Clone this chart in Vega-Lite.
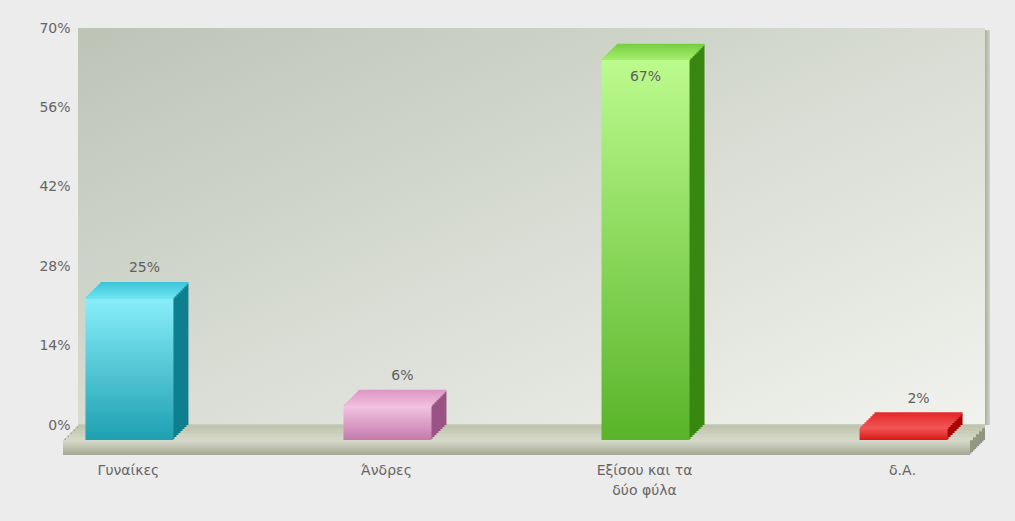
{
"$schema": "https://vega.github.io/schema/vega-lite/v6.json",
"width": 907,
"height": 397,
"autosize": "none",
"padding": {"left": 78, "top": 28, "right": 30, "bottom": 96},
"background": "#ececec",
"config": {"view": {"stroke": null}, "text": {"font": "DejaVu Sans"}},
"resolve": {"scale": {"x": "independent"}, "axis": {"x": "independent"}},
"layer": [
{
"data": {"values": [{"surface": "wall"}]},
"encoding": {
 "x": {"datum": 0, "type": "quantitative", "scale": {"domain": [0, 1], "nice": false, "zero": false}, "axis": null},
 "x2": {"datum": 1},
 "y": {"datum": 0, "type": "quantitative", "scale": {"domain": [0, 70], "nice": false, "zero": true}, "axis": {"title": null, "values": [0, 14, 28, 42, 56, 70], "labelExpr": "datum.value + '%'", "grid": false, "ticks": false, "domain": false, "labelPadding": 8, "labelFont": "DejaVu Sans", "labelFontSize": 14, "labelColor": "#666666"}},
 "y2": {"datum": -2.646}
},
"layer": [
{"mark": {"type": "rect", "color": {"gradient": "linear", "x1": 0, "y1": 0, "x2": 1, "y2": 1, "stops": [{"offset": 0, "color": "#bdc4b6"}, {"offset": 0.5, "color": "#d8dcd3"}, {"offset": 1, "color": "#f1f2ee"}]}},
 "encoding": {"y2": {"datum": 70}}},
{"mark": {"type": "rect", "color": {"gradient": "linear", "x1": 0, "y1": 0, "x2": 1, "y2": 0, "stops": [{"offset": 0, "color": "#a9af9d"}, {"offset": 1, "color": "#d0d4c8"}]}},
 "encoding": {"x": {"datum": 1, "type": "quantitative", "scale": {"domain": [0, 1], "nice": false, "zero": false}, "axis": null}, "x2": {"datum": 1.0055}, "y2": {"datum": 69.6}}},
{"data": {"values": [{"t": 14}, {"t": 28}, {"t": 42}, {"t": 56}]},
 "mark": {"type": "rule", "color": "#cad2bd", "strokeWidth": 1.2},
 "encoding": {"y": {"field": "t", "type": "quantitative", "scale": {"domain": [0, 70], "nice": false, "zero": true}, "axis": {"title": null, "values": [0, 14, 28, 42, 56, 70], "labelExpr": "datum.value + '%'", "grid": false, "ticks": false, "domain": false, "labelPadding": 8, "labelFont": "DejaVu Sans", "labelFontSize": 14, "labelColor": "#666666"}}, "y2": null}},
{"mark": {"type": "rect", "color": "#8f957f", "xOffset": 0, "yOffset": 0, "x2Offset": 0, "y2Offset": 0}},
{"mark": {"type": "rect", "color": "#8f957f", "xOffset": -1.5, "yOffset": 1.5, "x2Offset": -1.5, "y2Offset": 1.5}},
{"mark": {"type": "rect", "color": "#90967f", "xOffset": -3, "yOffset": 3, "x2Offset": -3, "y2Offset": 3}},
{"mark": {"type": "rect", "color": "#90967f", "xOffset": -4.5, "yOffset": 4.5, "x2Offset": -4.5, "y2Offset": 4.5}},
{"mark": {"type": "rect", "color": "#919780", "xOffset": -6, "yOffset": 6, "x2Offset": -6, "y2Offset": 6}},
{"mark": {"type": "rect", "color": "#919780", "xOffset": -7.5, "yOffset": 7.5, "x2Offset": -7.5, "y2Offset": 7.5}},
{"mark": {"type": "rect", "color": "#929881", "xOffset": -9, "yOffset": 9, "x2Offset": -9, "y2Offset": 9}},
{"mark": {"type": "rect", "color": "#929881", "xOffset": -10.5, "yOffset": 10.5, "x2Offset": -10.5, "y2Offset": 10.5}},
{"mark": {"type": "rect", "color": "#939982", "xOffset": -12, "yOffset": 12, "x2Offset": -12, "y2Offset": 12}},
{"mark": {"type": "rect", "color": "#939982", "xOffset": -13.5, "yOffset": 13.5, "x2Offset": -13.5, "y2Offset": 13.5}},
{"mark": {"type": "tick", "orient": "horizontal", "color": "#bfc4ae", "opacity": 1, "thickness": 3.4, "xOffset": 0, "yOffset": 1.5}, "encoding": {"x": {"datum": 0.5, "type": "quantitative", "scale": {"domain": [0, 1], "nice": false, "zero": false}, "axis": null}, "x2": null, "y2": null, "size": {"value": 907}}},
{"mark": {"type": "tick", "orient": "horizontal", "color": "#c4c9b4", "opacity": 1, "thickness": 3.4, "xOffset": -3, "yOffset": 4.5}, "encoding": {"x": {"datum": 0.5, "type": "quantitative", "scale": {"domain": [0, 1], "nice": false, "zero": false}, "axis": null}, "x2": null, "y2": null, "size": {"value": 907}}},
{"mark": {"type": "tick", "orient": "horizontal", "color": "#c9cdb9", "opacity": 1, "thickness": 3.4, "xOffset": -6, "yOffset": 7.5}, "encoding": {"x": {"datum": 0.5, "type": "quantitative", "scale": {"domain": [0, 1], "nice": false, "zero": false}, "axis": null}, "x2": null, "y2": null, "size": {"value": 907}}},
{"mark": {"type": "tick", "orient": "horizontal", "color": "#ced2bf", "opacity": 1, "thickness": 3.4, "xOffset": -9, "yOffset": 10.5}, "encoding": {"x": {"datum": 0.5, "type": "quantitative", "scale": {"domain": [0, 1], "nice": false, "zero": false}, "axis": null}, "x2": null, "y2": null, "size": {"value": 907}}},
{"mark": {"type": "tick", "orient": "horizontal", "color": "#d4d7c6", "opacity": 1, "thickness": 3.4, "xOffset": -12, "yOffset": 13.5}, "encoding": {"x": {"datum": 0.5, "type": "quantitative", "scale": {"domain": [0, 1], "nice": false, "zero": false}, "axis": null}, "x2": null, "y2": null, "size": {"value": 907}}},
{"mark": {"type": "rect", "color": {"gradient": "linear", "x1": 0, "y1": 0, "x2": 0, "y2": 1, "stops": [{"offset": 0, "color": "#d8dbcc"}, {"offset": 1, "color": "#a3a993"}]}, "xOffset": -15, "yOffset": 15, "x2Offset": -15, "y2Offset": 15}}
]
},
{
"data": {"values": [
 {"cat": "Γυναίκες", "v": 25, "label": "25%"},
 {"cat": "Άνδρες", "v": 6, "label": "6%"},
 {"cat": "Εξίσου και τα δύο φύλα", "v": 67, "label": "67%"},
 {"cat": "δ.Α.", "v": 2, "label": "2%"}
]},
"resolve": {"scale": {"color": "independent"}},
"encoding": {
 "x": {"field": "cat", "type": "nominal", "sort": null, "scale": {"paddingInner": 0.659, "paddingOuter": 0.087}, "axis": {"orient": "bottom", "title": null, "labelAngle": 0, "ticks": false, "domain": false, "labelPadding": 38, "labelOffset": -16, "labelFont": "DejaVu Sans", "labelFontSize": 14, "labelColor": "#666666", "labelLineHeight": 20, "labelExpr": "datum.label === 'Εξίσου και τα δύο φύλα' ? ['Εξίσου και τα', 'δύο φύλα'] : datum.label"}},
 "y": {"field": "v", "type": "quantitative", "stack": null, "scale": {"domain": [0, 70], "nice": false, "zero": true}, "axis": {"title": null, "values": [0, 14, 28, 42, 56, 70], "labelExpr": "datum.value + '%'", "grid": false, "ticks": false, "domain": false, "labelPadding": 8, "labelFont": "DejaVu Sans", "labelFontSize": 14, "labelColor": "#666666"}}
},
"layer": [
{"mark": {"type": "bar", "opacity": 1, "xOffset": 0, "yOffset": 0, "y2Offset": 0}, "encoding": {"y2": {"datum": 0}, "color": {"field": "cat", "type": "nominal", "legend": null, "scale": {"domain": ["Γυναίκες", "Άνδρες", "Εξίσου και τα δύο φύλα", "δ.Α."], "range": ["#0f7f8f", "#9a5484", "#378812", "#a80606"]}}}},
{"mark": {"type": "bar", "opacity": 1, "xOffset": -2, "yOffset": 2, "y2Offset": 2}, "encoding": {"y2": {"datum": 0}, "color": {"field": "cat", "type": "nominal", "legend": null, "scale": {"domain": ["Γυναίκες", "Άνδρες", "Εξίσου και τα δύο φύλα", "δ.Α."], "range": ["#0f7f8f", "#9a5484", "#378812", "#a80606"]}}}},
{"mark": {"type": "bar", "opacity": 1, "xOffset": -4, "yOffset": 4, "y2Offset": 4}, "encoding": {"y2": {"datum": 0}, "color": {"field": "cat", "type": "nominal", "legend": null, "scale": {"domain": ["Γυναίκες", "Άνδρες", "Εξίσου και τα δύο φύλα", "δ.Α."], "range": ["#0f7f8f", "#9a5484", "#378812", "#a80606"]}}}},
{"mark": {"type": "bar", "opacity": 1, "xOffset": -6, "yOffset": 6, "y2Offset": 6}, "encoding": {"y2": {"datum": 0}, "color": {"field": "cat", "type": "nominal", "legend": null, "scale": {"domain": ["Γυναίκες", "Άνδρες", "Εξίσου και τα δύο φύλα", "δ.Α."], "range": ["#0f7f8f", "#9a5484", "#378812", "#a80606"]}}}},
{"mark": {"type": "bar", "opacity": 1, "xOffset": -8, "yOffset": 8, "y2Offset": 8}, "encoding": {"y2": {"datum": 0}, "color": {"field": "cat", "type": "nominal", "legend": null, "scale": {"domain": ["Γυναίκες", "Άνδρες", "Εξίσου και τα δύο φύλα", "δ.Α."], "range": ["#0f7f8f", "#9a5484", "#378812", "#a80606"]}}}},
{"mark": {"type": "bar", "opacity": 1, "xOffset": -10, "yOffset": 10, "y2Offset": 10}, "encoding": {"y2": {"datum": 0}, "color": {"field": "cat", "type": "nominal", "legend": null, "scale": {"domain": ["Γυναίκες", "Άνδρες", "Εξίσου και τα δύο φύλα", "δ.Α."], "range": ["#0f7f8f", "#9a5484", "#378812", "#a80606"]}}}},
{"mark": {"type": "bar", "opacity": 1, "xOffset": -12, "yOffset": 12, "y2Offset": 12}, "encoding": {"y2": {"datum": 0}, "color": {"field": "cat", "type": "nominal", "legend": null, "scale": {"domain": ["Γυναίκες", "Άνδρες", "Εξίσου και τα δύο φύλα", "δ.Α."], "range": ["#0f7f8f", "#9a5484", "#378812", "#a80606"]}}}},
{"mark": {"type": "bar", "opacity": 1, "xOffset": -14, "yOffset": 14, "y2Offset": 14}, "encoding": {"y2": {"datum": 0}, "color": {"field": "cat", "type": "nominal", "legend": null, "scale": {"domain": ["Γυναίκες", "Άνδρες", "Εξίσου και τα δύο φύλα", "δ.Α."], "range": ["#0f7f8f", "#9a5484", "#378812", "#a80606"]}}}},
{"mark": {"type": "tick", "opacity": 1, "thickness": 2.6, "xOffset": 0, "yOffset": 0}, "encoding": {"size": {"value": 88}, "color": {"field": "cat", "type": "nominal", "legend": null, "scale": {"domain": ["Γυναίκες", "Άνδρες", "Εξίσου και τα δύο φύλα", "δ.Α."], "range": ["#3ec6da", "#dc98c6", "#78d040", "#e42a2a"]}}}},
{"mark": {"type": "tick", "opacity": 1, "thickness": 2.6, "xOffset": -2, "yOffset": 2}, "encoding": {"size": {"value": 88}, "color": {"field": "cat", "type": "nominal", "legend": null, "scale": {"domain": ["Γυναίκες", "Άνδρες", "Εξίσου και τα δύο φύλα", "δ.Α."], "range": ["#44cadd", "#df9dc9", "#7ed446", "#e63030"]}}}},
{"mark": {"type": "tick", "opacity": 1, "thickness": 2.6, "xOffset": -4, "yOffset": 4}, "encoding": {"size": {"value": 88}, "color": {"field": "cat", "type": "nominal", "legend": null, "scale": {"domain": ["Γυναίκες", "Άνδρες", "Εξίσου και τα δύο φύλα", "δ.Α."], "range": ["#4acee0", "#e2a2cc", "#84d84c", "#e83636"]}}}},
{"mark": {"type": "tick", "opacity": 1, "thickness": 2.6, "xOffset": -6, "yOffset": 6}, "encoding": {"size": {"value": 88}, "color": {"field": "cat", "type": "nominal", "legend": null, "scale": {"domain": ["Γυναίκες", "Άνδρες", "Εξίσου και τα δύο φύλα", "δ.Α."], "range": ["#50d2e3", "#e5a7cf", "#8adc52", "#ea3c3c"]}}}},
{"mark": {"type": "tick", "opacity": 1, "thickness": 2.6, "xOffset": -8, "yOffset": 8}, "encoding": {"size": {"value": 88}, "color": {"field": "cat", "type": "nominal", "legend": null, "scale": {"domain": ["Γυναίκες", "Άνδρες", "Εξίσου και τα δύο φύλα", "δ.Α."], "range": ["#56d6e6", "#e8acd2", "#90e058", "#ec4242"]}}}},
{"mark": {"type": "tick", "opacity": 1, "thickness": 2.6, "xOffset": -10, "yOffset": 10}, "encoding": {"size": {"value": 88}, "color": {"field": "cat", "type": "nominal", "legend": null, "scale": {"domain": ["Γυναίκες", "Άνδρες", "Εξίσου και τα δύο φύλα", "δ.Α."], "range": ["#5cdae9", "#ebb1d5", "#96e45e", "#ee4848"]}}}},
{"mark": {"type": "tick", "opacity": 1, "thickness": 2.6, "xOffset": -12, "yOffset": 12}, "encoding": {"size": {"value": 88}, "color": {"field": "cat", "type": "nominal", "legend": null, "scale": {"domain": ["Γυναίκες", "Άνδρες", "Εξίσου και τα δύο φύλα", "δ.Α."], "range": ["#62deec", "#eeb6d8", "#9ce864", "#f04e4e"]}}}},
{"mark": {"type": "tick", "opacity": 1, "thickness": 2.6, "xOffset": -14, "yOffset": 14}, "encoding": {"size": {"value": 88}, "color": {"field": "cat", "type": "nominal", "legend": null, "scale": {"domain": ["Γυναίκες", "Άνδρες", "Εξίσου και τα δύο φύλα", "δ.Α."], "range": ["#68e2ef", "#f1bbdb", "#a2ec6a", "#f25454"]}}}},
{"transform": [{"filter": "datum.cat === 'Γυναίκες'"}], "mark": {"type": "bar", "opacity": 1, "xOffset": -15, "yOffset": 15, "y2Offset": 15, "color": {"gradient": "linear", "x1": 0, "y1": 0, "x2": 0, "y2": 1, "stops": [{"offset": 0, "color": "#88eefa"}, {"offset": 1, "color": "#1ea0b1"}]}}, "encoding": {"y2": {"datum": 0}}},
{"transform": [{"filter": "datum.cat === 'Άνδρες'"}], "mark": {"type": "bar", "opacity": 1, "xOffset": -15, "yOffset": 15, "y2Offset": 15, "color": {"gradient": "linear", "x1": 0, "y1": 0, "x2": 0, "y2": 1, "stops": [{"offset": 0, "color": "#f3c4e3"}, {"offset": 1, "color": "#c47aab"}]}}, "encoding": {"y2": {"datum": 0}}},
{"transform": [{"filter": "datum.cat === 'Εξίσου και τα δύο φύλα'"}], "mark": {"type": "bar", "opacity": 1, "xOffset": -15, "yOffset": 15, "y2Offset": 15, "color": {"gradient": "linear", "x1": 0, "y1": 0, "x2": 0, "y2": 1, "stops": [{"offset": 0, "color": "#bcfb8e"}, {"offset": 1, "color": "#58b428"}]}}, "encoding": {"y2": {"datum": 0}}},
{"transform": [{"filter": "datum.cat === 'δ.Α.'"}], "mark": {"type": "bar", "opacity": 1, "xOffset": -15, "yOffset": 15, "y2Offset": 15, "color": {"gradient": "linear", "x1": 0, "y1": 0, "x2": 0, "y2": 1, "stops": [{"offset": 0, "color": "#f05252"}, {"offset": 1, "color": "#d81818"}]}}, "encoding": {"y2": {"datum": 0}}},
{"transform": [{"filter": "datum.v <= 60"}], "mark": {"type": "text", "font": "DejaVu Sans", "fontSize": 14, "color": "#5f5f5f", "baseline": "middle", "align": "center", "dy": -15}, "encoding": {"text": {"field": "label"}}},
{"transform": [{"filter": "datum.v > 60"}], "mark": {"type": "text", "font": "DejaVu Sans", "fontSize": 14, "color": "#5f5f5f", "baseline": "middle", "align": "center", "dx": -15, "dy": 32}, "encoding": {"text": {"field": "label"}}}
]
}
]
}
